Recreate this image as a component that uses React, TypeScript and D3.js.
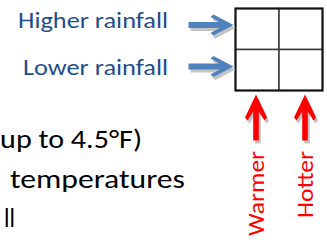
import { useEffect, useRef } from "react";
import * as d3 from "d3";

const rowLabels = ["Higher rainfall", "Lower rainfall"];
const rowLabelWidths = [150, 145];
const colLabels = ["Warmer", "Hotter"];
const colLabelLengths = [85, 67];
const bodyLines = ["(up to 4.5°F)", "temperatures", "ll"];

const W = 327;
const H = 243;
const FONT = "Calibri, Carlito, Lato, sans-serif";

// arrow pointing +x, tip at origin
function arrowPoints(len: number, shaft: number, headLen: number, headHalf: number) {
  return [
    [0, 0],
    [-headLen, -headHalf],
    [-headLen - 3, -headHalf + 2.5],
    [-headLen + 6, -shaft],
    [-len, -shaft],
    [-len, shaft],
    [-headLen + 6, shaft],
    [-headLen - 3, headHalf - 2.5],
    [-headLen, headHalf],
  ] as [number, number][];
}

export default function App() {
  const ref = useRef<SVGSVGElement>(null);

  useEffect(() => {
    const svg = d3.select(ref.current);
    svg.selectAll("*").remove();

    const x = d3.scaleBand().domain(colLabels).range([235.5, 322.5]);
    const y = d3.scaleBand().domain(rowLabels).range([8.5, 90.5]);
    const arrowX = d3.scalePoint().domain(colLabels).range([256, 305]);
    const arrowY = d3.scalePoint().domain(rowLabels).range([25, 66.5]);
    const labelY = d3.scalePoint().domain(rowLabels).range([27.5, 74.5]);
    const line = d3.line();

    // grid
    const grid = svg.append("g");
    grid
      .selectAll("rect.cell")
      .data(d3.cross(colLabels, rowLabels))
      .join("rect")
      .attr("class", "cell")
      .attr("x", (d) => x(d[0])!)
      .attr("y", (d) => y(d[1])!)
      .attr("width", x.bandwidth())
      .attr("height", y.bandwidth())
      .attr("fill", "#fff")
      .attr("stroke", "#3a3a3a")
      .attr("stroke-width", 1.5);
    grid
      .append("rect")
      .attr("x", x.range()[0])
      .attr("y", y.range()[0])
      .attr("width", x.range()[1] - x.range()[0])
      .attr("height", y.range()[1] - y.range()[0])
      .attr("fill", "none")
      .attr("stroke", "#111")
      .attr("stroke-width", 2);

    // blue arrows + labels
    const blue = arrowPoints(45, 3, 20, 10.5);
    rowLabels.forEach((r, i) => {
      const tx = x.range()[0] - 2;
      const ty = arrowY(r)!;
      svg
        .append("path")
        .attr("d", line(blue) + "Z")
        .attr("transform", `translate(${tx + 2},${ty + 3})`)
        .attr("fill", "#c4c4c4");
      svg
        .append("path")
        .attr("d", line(blue) + "Z")
        .attr("transform", `translate(${tx},${ty})`)
        .attr("fill", "#4f81bd");
      svg
        .append("text")
        .attr("x", 168)
        .attr("y", labelY(r)!)
        .attr("text-anchor", "end")
        .attr("font-family", FONT)
        .attr("font-size", 22)
        .attr("fill", "#1f4e8a")
        .attr("textLength", rowLabelWidths[i])
        .attr("lengthAdjust", "spacingAndGlyphs")
        .text(r);
    });

    // red arrows + labels
    const red = arrowPoints(46, 2.8, 23, 11);
    colLabels.forEach((c, i) => {
      const tx = arrowX(c)!;
      const ty = y.range()[1] + 4;
      svg
        .append("path")
        .attr("d", line(red) + "Z")
        .attr("transform", `translate(${tx + 2},${ty + 3}) rotate(-90)`)
        .attr("fill", "#c4c4c4");
      svg
        .append("path")
        .attr("d", line(red) + "Z")
        .attr("transform", `translate(${tx},${ty}) rotate(-90)`)
        .attr("fill", "#ff0000");
      svg
        .append("text")
        .attr("transform", `translate(${tx + 7.5},151) rotate(-90)`)
        .attr("text-anchor", "end")
        .attr("font-family", FONT)
        .attr("font-size", 22)
        .attr("fill", "#ff0000")
        .attr("textLength", colLabelLengths[i])
        .attr("lengthAdjust", "spacingAndGlyphs")
        .text(c);
    });

    // body text (cut off at left)
    const bodyX = [-9, 10, 4];
    const bodyLen = [151, 175, 11];
    const bodyY = d3.scalePoint().domain(bodyLines).range([148, 227]);
    bodyLines.forEach((t, i) => {
      svg
        .append("text")
        .attr("x", bodyX[i])
        .attr("y", bodyY(t)!)
        .attr("font-family", FONT)
        .attr("font-size", 26.5)
        .attr("fill", "#000")
        .attr("textLength", bodyLen[i])
        .attr("lengthAdjust", "spacingAndGlyphs")
        .text(t);
    });
  }, []);

  return (
    <svg
      ref={ref}
      width={W}
      height={H}
      style={{ position: "absolute", left: 0, top: 0, background: "#fff" }}
    />
  );
}
